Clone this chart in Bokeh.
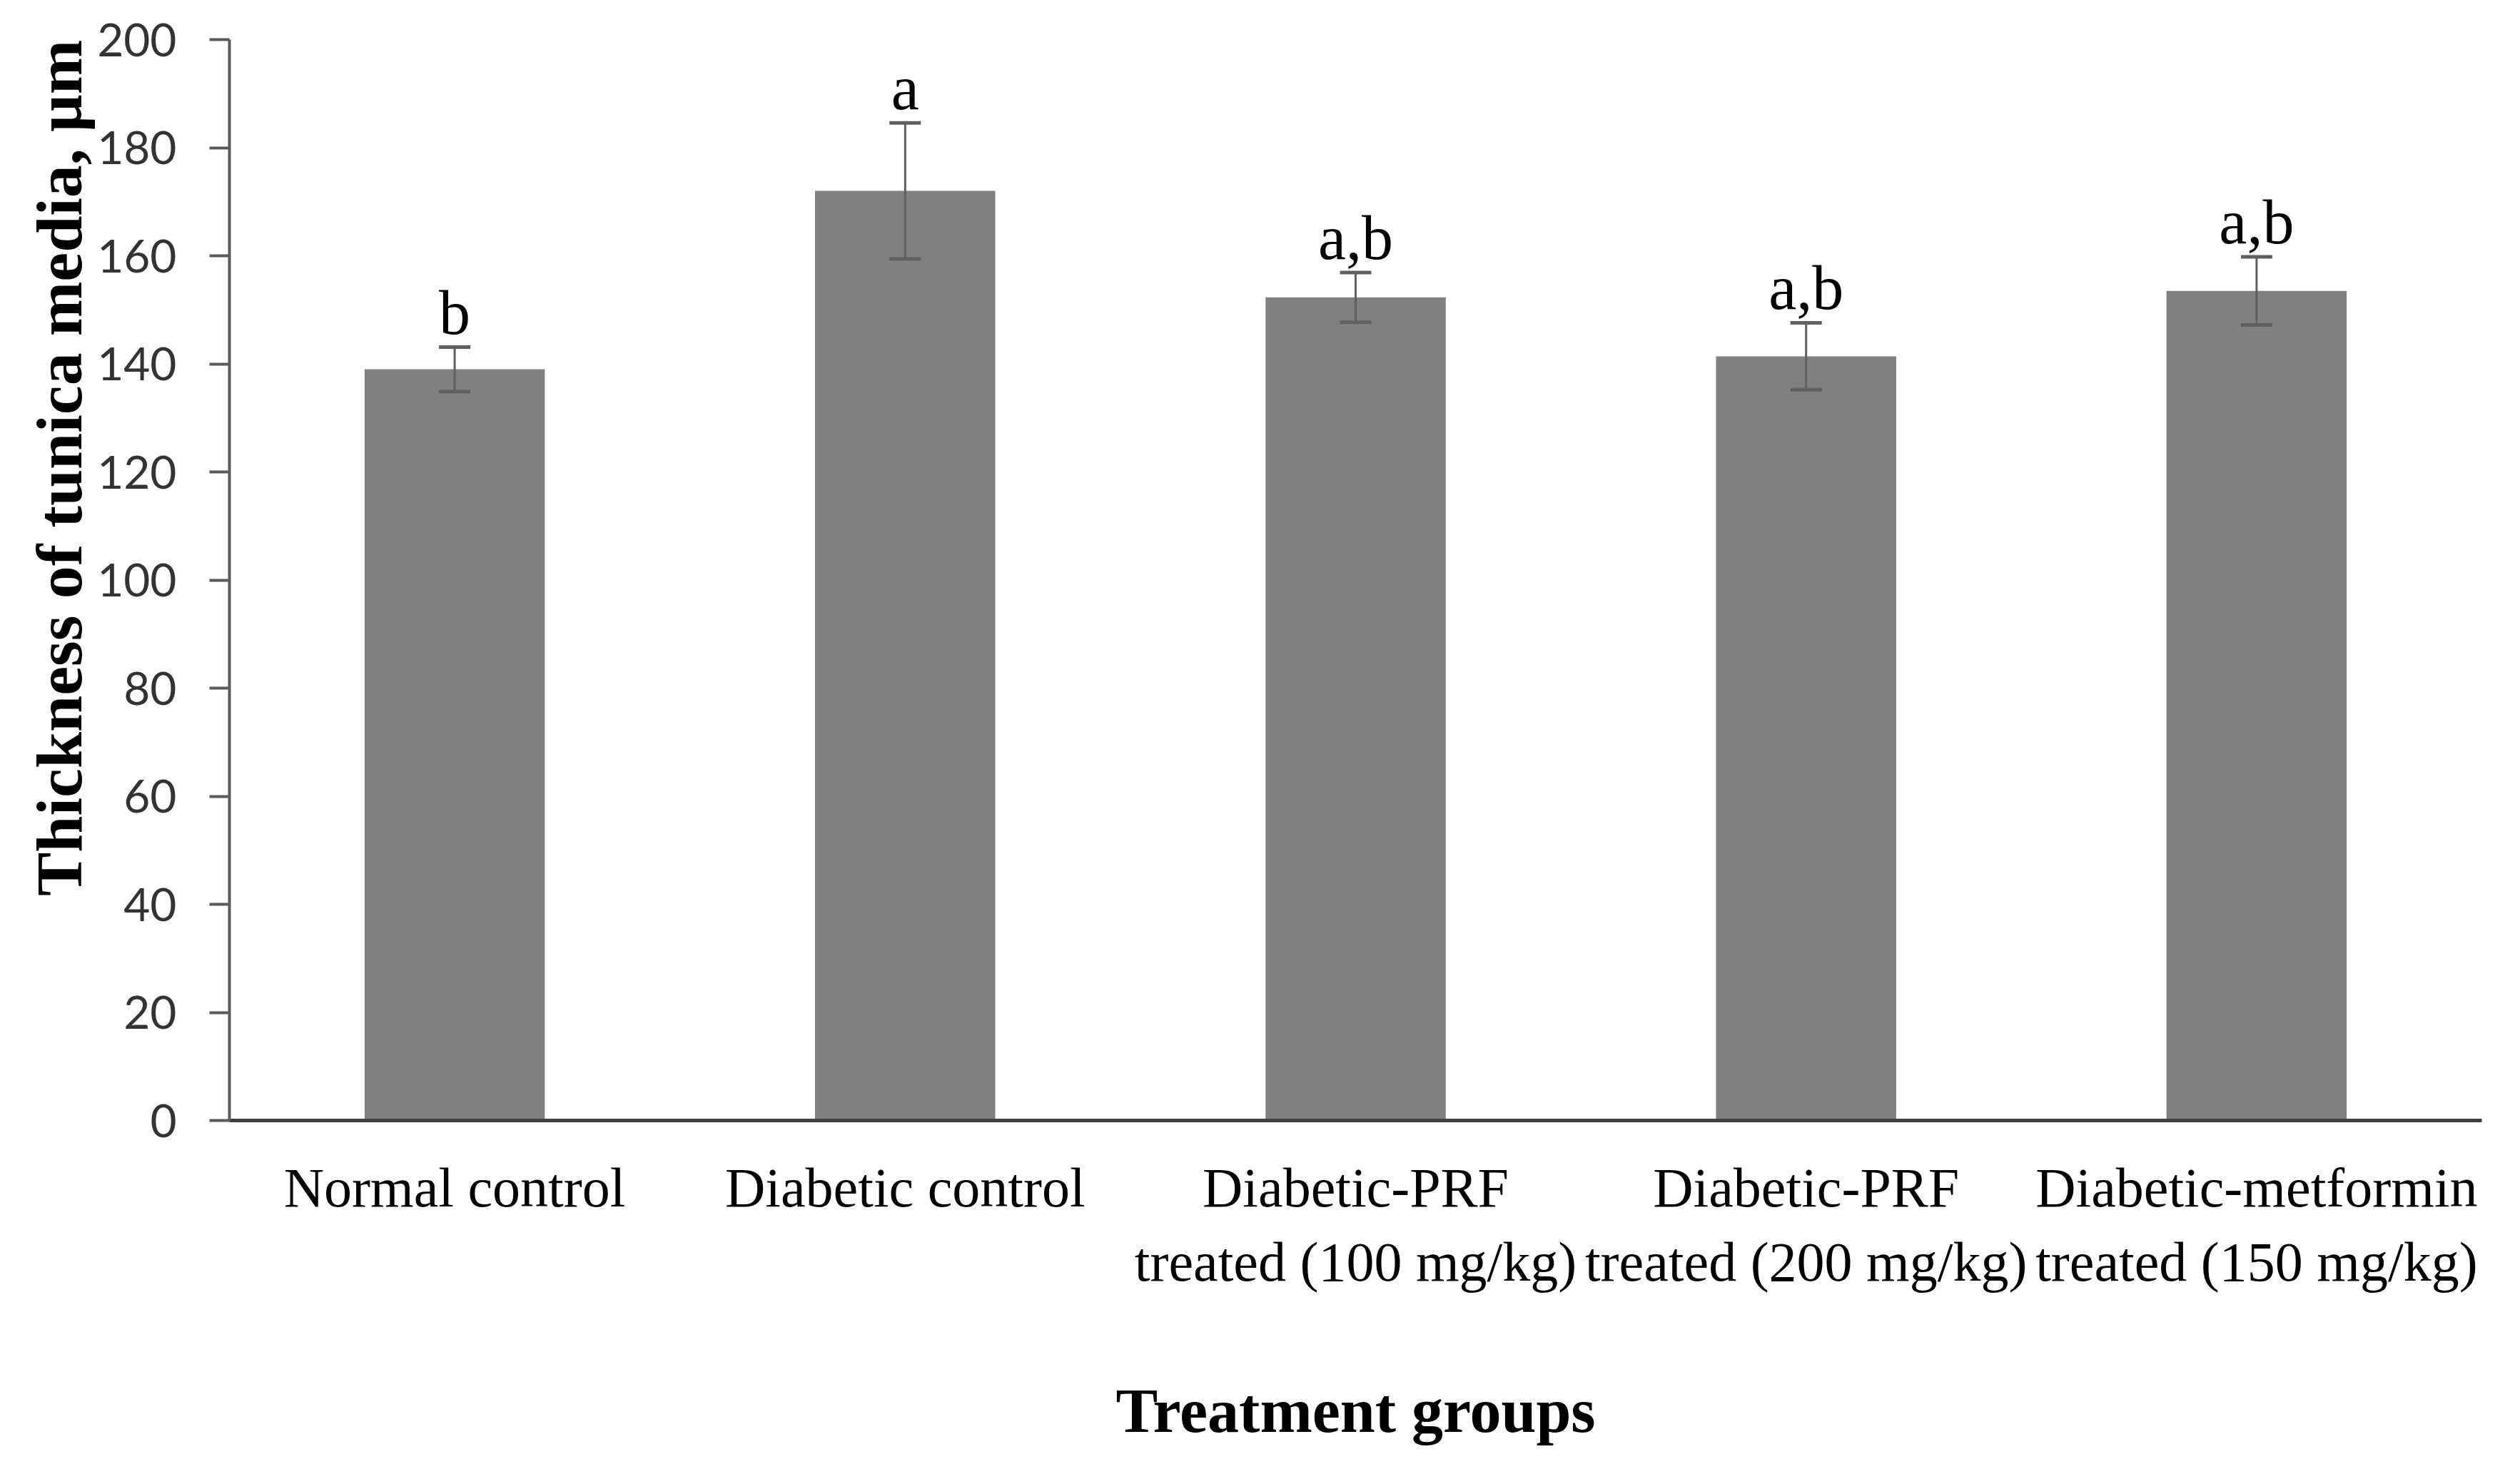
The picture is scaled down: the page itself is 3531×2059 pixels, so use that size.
from bokeh.plotting import figure
from bokeh.models import ColumnDataSource, Whisker, TeeHead, Range1d, FactorRange, Title
from bokeh.core.properties import value
from bokeh.embed import file_html
from bokeh.resources import INLINE

# ---- data ----
categories = ["Normal control", "Diabetic control",
              "Diabetic-PRF\ntreated (100 mg/kg)",
              "Diabetic-PRF\ntreated (200 mg/kg)",
              "Diabetic-metformin\ntreated (150 mg/kg)"]
means = [139.0, 172.0, 152.3, 141.4, 153.5]
errors = [4.1, 12.6, 4.6, 6.2, 6.3]
letters = ["b", "a", "a,b", "a,b", "a,b"]
y_ticks = [0, 20, 40, 60, 80, 100, 120, 140, 160, 180, 200]
y_title = "Thickness of tunica media, µm"
x_title = "Treatment groups"

src = ColumnDataSource(dict(
    cats=categories,
    means=means,
    upper=[m + e for m, e in zip(means, errors)],
    lower=[m - e for m, e in zip(means, errors)],
    letters=letters,
))

W, H = 3515, 2043
p = figure(width=W, height=H, x_range=FactorRange(*categories),
           y_range=Range1d(0, 200), output_backend="svg",
           toolbar_location=None, tools="")
p.min_border_left = 321
p.min_border_right = 38
p.min_border_top = 55
p.min_border_bottom = 473
p.outline_line_color = None
p.background_fill_color = "white"
p.border_fill_color = "white"
p.grid.visible = False

p.vbar(x="cats", top="means", bottom=0, width=0.4, source=src,
       fill_color="#808080", line_color=None)

wh = Whisker(base="cats", upper="upper", lower="lower", source=src,
             line_color="#606060", line_width=3, level="overlay",
             upper_head=TeeHead(size=44, line_color="#606060", line_width=5),
             lower_head=TeeHead(size=44, line_color="#606060", line_width=5))
p.add_layout(wh)

p.text(x="cats", y="upper", text="letters", source=src, y_offset=0,
       text_align="center", text_baseline="bottom",
       text_font=value("Liberation Serif"), text_font_size="88px",
       text_color="black")

# y axis
ya = p.yaxis[0]
ya.ticker = y_ticks
ya.axis_line_color = "#595959"
ya.axis_line_width = 4
ya.major_tick_line_color = "#595959"
ya.major_tick_line_width = 4
ya.major_tick_out = 28
ya.major_tick_in = 0
ya.minor_tick_line_color = None
ya.major_label_text_font = "Lato"
ya.major_label_text_font_size = "64px"
ya.major_label_text_color = "#333333"
ya.major_label_standoff = 46

# x axis
xa = p.xaxis[0]
xa.axis_line_color = "#404040"
xa.axis_line_width = 5
xa.major_tick_line_color = None
xa.major_tick_out = 0
xa.major_tick_in = 0
xa.minor_tick_line_color = None
xa.major_label_text_font = "Liberation Serif"
xa.major_label_text_font_size = "78px"
xa.major_label_text_color = "black"
xa.major_label_standoff = 50
xa.major_label_orientation = "horizontal"
xa.axis_label = x_title
xa.axis_label_text_font = "Liberation Serif"
xa.axis_label_text_font_style = "bold"
xa.axis_label_text_font_size = "88px"
xa.axis_label_text_color = "black"
xa.axis_label_standoff = 114

# y title on the left, aligned to the top of the plot like the reference
p.add_layout(Title(text=y_title, align="right", standoff=0,
                   text_font="Liberation Serif", text_font_style="bold",
                   text_font_size="92px", text_color="black"), "left")

open("out.html", "w").write(file_html(p, INLINE))
